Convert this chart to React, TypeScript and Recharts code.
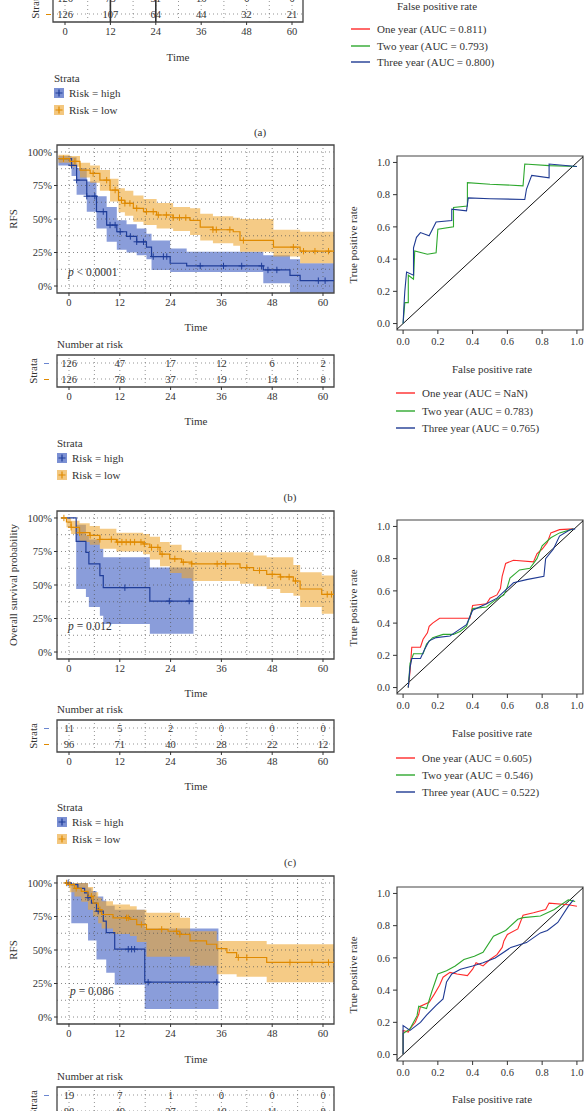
import React from "react";
import {
  ComposedChart,
  Line,
  Area,
  Scatter,
  XAxis,
  YAxis,
  ReferenceLine,
  ReferenceArea,
} from "recharts";

const FONT = '"Liberation Serif", "DejaVu Serif", serif';
const INK = "#333";
const HIGH_LINE = "#1f3d99";
const HIGH_FILL = "#3556bf";
const LOW_LINE = "#e08a00";
const LOW_FILL = "#eda62e";
const KEY_HIGH = "#7b90d3";
const KEY_LOW = "#f3c77f";
const ROC_RED = "#ff2a2a";
const ROC_GREEN = "#2ea82e";
const ROC_BLUE = "#1f3a93";

// axis ticks
const MONTHS = [0, 12, 24, 36, 48, 60];
const MONTH_GRID = [0, 6, 12, 18, 24, 30, 36, 42, 48, 54, 60];
const PCT = [0, 25, 50, 75, 100];
const PCT_GRID = [0, 12.5, 25, 37.5, 50, 62.5, 75, 87.5, 100];
const ROC_TICKS = [0, 0.2, 0.4, 0.6, 0.8, 1];

// ---- panel (a) risk table (partly cut off) ----
const A_HIGH_N = ["126", "75", "31", "16", "6", "0"];
const A_LOW_N = ["126", "107", "64", "44", "32", "21"];
const A_AUC = ["One year (AUC = 0.811)", "Two year (AUC = 0.793)", "Three year (AUC = 0.800)"];

// ---- panel (b) ----
const B_HIGH_T = [-2.5, 0.6, 1.8, 4.2, 6.5, 8.9, 11.3, 13.6, 16, 18.3, 19.5, 23.9, 27.8, 45.9, 52.2, 54.6, 62.6];
const B_HIGH_S = [95, 90, 79, 67, 55.5, 45.5, 40.5, 37, 33, 29, 22, 17, 15, 12, 8, 4, 4];
const B_HIGH_LO = [90, 82, 68, 55.5, 43, 33, 27, 25, 23, 20, 12, 10.5, 10.5, 2, -5, -5, -5];
const B_HIGH_HI = [97, 96, 88, 78, 67, 59, 49, 46, 43, 39, 34, 28, 25.6, 23, 20, 17, 17];
const B_LOW_T = [-2.5, 0.2, 2.6, 5, 7.3, 9.7, 11.7, 13.2, 15.2, 17.6, 20.7, 24.6, 28.6, 31, 34, 38.8, 40.4, 48.3, 54.6, 62.6];
const B_LOW_S = [95, 93, 86.5, 84, 79, 71.6, 64, 61.7, 58, 55.5, 53, 51, 49, 44, 42, 40.5, 34, 29, 26, 26];
const B_LOW_LO = [92, 89, 81, 77, 71, 63, 55, 52.5, 48, 45.5, 43, 41, 38, 34, 32, 30, 25.6, 22, 17, 17];
const B_LOW_HI = [98, 97, 92, 90, 86.5, 80, 73, 71, 67.5, 65, 62, 59, 58, 54, 52, 51, 50, 42, 40.5, 40.5];
const B_HIGH_CENS = [0.6, 1.8, 4.2, 6.1, 8.1, 9.7, 10.9, 12.1, 14.5, 16, 17.6, 19.9, 22.3, 23.1, 31, 36.5, 40.8, 45.5, 47, 49.1, 58.9, 60.5];
const B_LOW_CENS = [-1.3, 1.4, 5.7, 8.9, 10.9, 12.4, 13.2, 14.4, 16, 18.3, 19.9, 21.1, 23, 24.6, 26.1, 27.6, 34, 34.8, 38, 41.2, 53, 55.4, 58.1, 61.3];
const B_HIGH_N = ["126", "47", "17", "12", "6", "2"];
const B_LOW_N = ["126", "78", "37", "19", "14", "8"];
const B_GREEN_X = [0, 0.01, 0.03, 0.03, 0.06, 0.067, 0.14, 0.19, 0.2, 0.29, 0.29, 0.37, 0.37, 0.5, 0.69, 0.7, 0.84, 1];
const B_GREEN_Y = [0, 0.13, 0.13, 0.3, 0.275, 0.45, 0.43, 0.44, 0.585, 0.6, 0.72, 0.73, 0.875, 0.865, 0.855, 0.99, 0.98, 0.975];
const B_BLUE_X = [0, 0.006, 0.01, 0.02, 0.06, 0.06, 0.077, 0.1, 0.15, 0.19, 0.28, 0.28, 0.365, 0.375, 0.5, 0.7, 0.71, 0.74, 0.84, 0.84, 1];
const B_BLUE_Y = [0, 0.13, 0.2, 0.32, 0.3, 0.47, 0.535, 0.565, 0.545, 0.63, 0.64, 0.71, 0.7, 0.78, 0.775, 0.77, 0.835, 0.92, 0.905, 0.99, 0.975];
const B_AUC = ["One year (AUC = NaN)", "Two year (AUC = 0.783)", "Three year (AUC = 0.765)"];

// ---- panel (c) ----
const C_HIGH_T = [-1.8, 1.7, 4, 4.7, 7.3, 8.1, 19.1, 29.4];
const C_HIGH_S = [100, 82.6, 74.4, 65.8, 57, 48, 38, 38];
const C_HIGH_LO = [100, 47, 41, 33.5, 27, 21, 13.6, 13.6];
const C_HIGH_HI = [100, 95, 87, 84, 77, 70.7, 63, 63];
const C_LOW_T = [-1.8, -0.6, 0.5, 2.5, 4.9, 7.3, 11.2, 17.5, 19.1, 21.5, 23.8, 26.6, 29, 40.4, 43.6, 46.7, 49.9, 53, 54.6, 59.7, 62.7];
const C_LOW_S = [100, 97, 93, 89, 87, 84, 82, 80.6, 78, 73, 69.5, 67, 65.8, 63, 60.8, 58, 56, 53, 47, 43, 43];
const C_LOW_LO = [100, 93, 88, 82, 80, 77, 75, 73, 69, 64, 59, 55, 53, 51, 49, 47, 44, 42, 33.5, 28.5, 28.5];
const C_LOW_HI = [100, 100, 98, 96, 94, 92, 89, 88, 86, 82, 80, 76, 74.4, 74.4, 72, 70.7, 70.7, 65, 59.6, 57, 57];
const C_HIGH_CENS = [13.2, 23.7, 28.4];
const C_LOW_CENS = [-1.2, 0.5, 2.5, 5, 7.3, 10, 11.5, 12.5, 13.5, 14.5, 15.5, 17, 17.8, 19.5, 21, 22, 25, 27, 29, 35, 37, 42, 45, 48, 50, 52, 53.5, 61, 62];
const C_HIGH_N = ["11", "5", "2", "0", "0", "0"];
const C_LOW_N = ["96", "71", "40", "28", "22", "12"];
const C_RED_X = [0.03, 0.04, 0.05, 0.1, 0.115, 0.14, 0.15, 0.17, 0.21, 0.385, 0.4, 0.48, 0.5, 0.54, 0.56, 0.57, 0.59, 0.635, 0.75, 0.77, 0.8, 0.83, 0.85, 0.9, 0.98];
const C_RED_Y = [0, 0.1, 0.25, 0.25, 0.3, 0.34, 0.38, 0.4, 0.43, 0.43, 0.51, 0.52, 0.555, 0.575, 0.615, 0.69, 0.77, 0.79, 0.78, 0.83, 0.86, 0.9, 0.96, 0.98, 0.985];
const C_GREEN_X = [0.03, 0.04, 0.06, 0.115, 0.135, 0.17, 0.23, 0.29, 0.33, 0.365, 0.4, 0.48, 0.52, 0.58, 0.6, 0.615, 0.67, 0.73, 0.77, 0.8, 0.85, 0.9, 0.98];
const C_GREEN_Y = [0, 0.15, 0.21, 0.21, 0.27, 0.31, 0.33, 0.33, 0.35, 0.38, 0.49, 0.5, 0.535, 0.575, 0.625, 0.68, 0.73, 0.74, 0.8, 0.88, 0.93, 0.96, 0.985];
const C_BLUE_X = [0.03, 0.04, 0.05, 0.1, 0.125, 0.15, 0.19, 0.27, 0.31, 0.365, 0.4, 0.44, 0.48, 0.54, 0.58, 0.635, 0.71, 0.81, 0.82, 0.865, 0.9, 0.96, 0.99];
const C_BLUE_Y = [0, 0.125, 0.18, 0.18, 0.24, 0.29, 0.31, 0.32, 0.35, 0.39, 0.48, 0.5, 0.52, 0.555, 0.595, 0.65, 0.67, 0.69, 0.8, 0.86, 0.94, 0.98, 0.985];
const C_AUC = ["One year (AUC = 0.605)", "Two year (AUC = 0.546)", "Three year (AUC = 0.522)"];

// ---- panel (d) ----
const D_HIGH_T = [-1, 0.55, 2.1, 3.7, 4.5, 5.3, 6.5, 8.1, 8.8, 10.8, 17.9, 35.3];
const D_HIGH_S = [100, 98.8, 96, 92.6, 89, 85, 79, 71.6, 63, 50.6, 26, 26];
const D_HIGH_LO = [100, 70, 70, 70, 57, 57, 43, 43, 33, 24, 6, 6];
const D_HIGH_HI = [100, 100, 100, 100, 96, 94, 90, 87, 83, 80, 66, 66];
const D_LOW_T = [-1, 0.2, 1.3, 2.9, 4.5, 5.7, 6.9, 7.7, 10.4, 14.4, 16, 18.3, 23.4, 26.2, 28.6, 32.5, 34.9, 37.3, 39.6, 46.7, 62.7];
const D_LOW_S = [100, 98.8, 96, 93.8, 90, 85, 80, 76.5, 74, 72.8, 69, 65.4, 64, 61.7, 56.8, 54.3, 51, 48, 44.4, 40.7, 40.7];
const D_LOW_LO = [100, 93, 90, 86, 80, 75, 70, 66, 62, 60.5, 56, 45, 45, 45, 38.3, 38.3, 32, 32, 30, 26, 26];
const D_LOW_HI = [100, 100, 100, 100, 97, 93, 89, 86.4, 84, 82.7, 80, 77.8, 77.8, 74, 64, 64, 56.8, 56.8, 56.8, 54.3, 54.3];
const D_HIGH_CENS = [-0.2, 4.5, 6.9, 14, 14.8, 15.5, 18.7, 34.9];
const D_LOW_CENS = [-0.6, 0.2, 1.7, 5.3, 7.3, 13.6, 14, 17.1, 21.9, 25.4, 26.2, 40, 42, 52.2, 57.4, 61.3];
const D_HIGH_N = ["19", "7", "1", "0", "0", "0"];
const D_LOW_N = ["88", "49", "27", "18", "11", "8"];
const D_RED_X = [0, 0, 0.03, 0.04, 0.07, 0.09, 0.1, 0.15, 0.18, 0.21, 0.23, 0.27, 0.31, 0.37, 0.4, 0.42, 0.46, 0.5, 0.54, 0.57, 0.58, 0.6, 0.66, 0.69, 0.75, 0.82, 0.84, 0.95, 1];
const D_RED_Y = [0, 0.15, 0.14, 0.16, 0.2, 0.25, 0.3, 0.325, 0.375, 0.43, 0.48, 0.51, 0.5, 0.49, 0.53, 0.57, 0.55, 0.59, 0.62, 0.665, 0.705, 0.745, 0.78, 0.865, 0.88, 0.9, 0.94, 0.93, 0.92];
const D_GREEN_X = [0, 0, 0.04, 0.08, 0.09, 0.135, 0.165, 0.2, 0.25, 0.3, 0.35, 0.41, 0.46, 0.52, 0.59, 0.66, 0.69, 0.79, 0.87, 0.95, 0.99];
const D_GREEN_Y = [0, 0.13, 0.16, 0.24, 0.3, 0.285, 0.39, 0.5, 0.52, 0.55, 0.59, 0.61, 0.635, 0.735, 0.77, 0.84, 0.85, 0.86, 0.9, 0.96, 0.95];
const D_BLUE_X = [0, 0, 0.04, 0.1, 0.135, 0.19, 0.23, 0.25, 0.28, 0.33, 0.4, 0.46, 0.53, 0.62, 0.71, 0.79, 0.83, 0.89, 0.95, 0.98];
const D_BLUE_Y = [0, 0.18, 0.15, 0.2, 0.245, 0.305, 0.345, 0.45, 0.5, 0.53, 0.55, 0.57, 0.6, 0.665, 0.695, 0.755, 0.77, 0.82, 0.92, 0.96];

const bandRows = (t: number[], s: number[], lo: number[], hi: number[]) =>
  t.map((v, i) => ({ t: v, s: s[i], lo: lo[i], hi: hi[i] }));

// censor marks sit on the step curve
const onCurve = (times: number[], t: number[], s: number[]) =>
  times.map((c) => {
    let v = s[0];
    t.forEach((tt, i) => {
      if (tt <= c) v = s[i];
    });
    return { t: c, s: v };
  });

const rocRows = (x: number[], y: number[]) => x.map((v, i) => ({ x: v, y: y[i] }));

const tickStyle = { fontSize: 10.5, fill: INK, fontFamily: FONT };

const plus = (color: string) => (p: any) =>
  (
    <path
      d={`M${p.cx - 3.2},${p.cy}h6.4M${p.cx},${p.cy - 3.2}v6.4`}
      stroke={color}
      strokeWidth={1}
      fill="none"
    />
  );

function Txt({ x, y, children, anchor = "middle", rotate = false, size = 11, style = {} }: any) {
  const tx = anchor === "middle" ? "-50%" : anchor === "end" ? "-100%" : "0";
  return (
    <div
      style={{
        position: "absolute",
        left: x,
        top: y,
        transform: `translate(${tx},-50%)${rotate ? " rotate(-90deg)" : ""}`,
        fontSize: size,
        lineHeight: 1,
        whiteSpace: "nowrap",
        color: INK,
        fontFamily: FONT,
        ...style,
      }}
    >
      {children}
    </div>
  );
}

function KMPlot({ top, hT, hS, hLo, hHi, lT, lS, lLo, lHi, hC, lC }: any) {
  const xd = [-2.83, 62.6];
  const yd = [-5.2, 105.2];
  const hiRows = bandRows(hT, hS, hLo, hHi);
  const loRows = bandRows(lT, lS, lLo, lHi);
  return (
    <div style={{ position: "absolute", left: 0, top: top - 10 }}>
      <ComposedChart width={340} height={180} margin={{ top: 10, right: 6, bottom: 0, left: 10 }}>
        <XAxis type="number" dataKey="t" domain={xd} ticks={MONTHS} interval={0} allowDataOverflow
          axisLine={false} tickSize={3} tickMargin={3} tickLine={{ stroke: INK }} tick={tickStyle} height={22} />
        <YAxis type="number" domain={yd} ticks={PCT} interval={0} allowDataOverflow axisLine={false}
          tickSize={3} tickMargin={2} tickLine={{ stroke: INK }} tickFormatter={(v: number) => `${v}%`}
          tick={tickStyle} width={47} />
        {MONTH_GRID.map((v) => (
          <ReferenceLine key={"gx" + v} x={v} stroke="#555" strokeDasharray="1 3" strokeWidth={0.7} />
        ))}
        {PCT_GRID.map((v) => (
          <ReferenceLine key={"gy" + v} y={v} stroke="#555" strokeDasharray="1 3" strokeWidth={0.7} />
        ))}
        <Area data={hiRows} dataKey={(d: any) => [d.lo, d.hi]} type="stepAfter" fill={HIGH_FILL}
          fillOpacity={0.58} stroke="none" isAnimationActive={false} />
        <Area data={loRows} dataKey={(d: any) => [d.lo, d.hi]} type="stepAfter" fill={LOW_FILL}
          fillOpacity={0.58} stroke="none" isAnimationActive={false} />
        <Line data={hiRows} dataKey="s" type="stepAfter" stroke={HIGH_LINE} strokeWidth={1.2} dot={false}
          isAnimationActive={false} />
        <Line data={loRows} dataKey="s" type="stepAfter" stroke={LOW_LINE} strokeWidth={1.2} dot={false}
          isAnimationActive={false} />
        <Scatter data={onCurve(hC, hT, hS)} dataKey="s" shape={plus(HIGH_LINE)} isAnimationActive={false} />
        <Scatter data={onCurve(lC, lT, lS)} dataKey="s" shape={plus(LOW_LINE)} isAnimationActive={false} />
        <ReferenceArea x1={xd[0]} x2={xd[1]} y1={yd[0]} y2={yd[1]} fill="none" stroke="#444"
          strokeWidth={1.3} ifOverflow="visible" />
      </ComposedChart>
    </div>
  );
}

function RiskTable({ top, left, right, x0, x60, highN, lowN, solid = false }: any) {
  const k = (x60 - x0) / 60;
  const xd = [(left - x0) / k, (right - x0) / k];
  const cells = [
    ...MONTHS.map((t, i) => ({ t, y: 1.5, n: highN[i] })),
    ...MONTHS.map((t, i) => ({ t, y: 0.5, n: lowN[i] })),
  ];
  return (
    <div style={{ position: "absolute", left: left - 57, top: top - 2 }}>
      <ComposedChart width={right - left + 63} height={56} margin={{ top: 2, right: 6, bottom: 0, left: 10 }}>
        <XAxis type="number" dataKey="t" domain={xd} ticks={MONTHS} interval={0} allowDataOverflow
          axisLine={false} tickSize={3} tickMargin={3} tickLine={{ stroke: INK }} tick={tickStyle} height={22} />
        <YAxis type="number" domain={[0, 2]} tick={false} axisLine={false} tickLine={false} width={47} />
        {MONTH_GRID.map((v) => (
          <ReferenceLine key={"gx" + v} x={v} stroke="#666" strokeDasharray="1 3" strokeWidth={0.7} />
        ))}
        {[0.5, 1.5].map((v) => (
          <ReferenceLine key={"gy" + v} y={v} stroke="#666" strokeDasharray="1 3" strokeWidth={0.7} />
        ))}
        {solid &&
          [12, 24].map((v) => <ReferenceLine key={"s" + v} x={v} stroke="#333" strokeWidth={1.6} />)}
        <Scatter
          data={cells}
          dataKey="y"
          isAnimationActive={false}
          shape={(p: any) => (
            <text x={p.cx} y={p.cy} dy="0.35em" textAnchor="middle" fontSize={10.5} fontFamily={FONT} fill={INK}>
              {p.payload.n}
            </text>
          )}
        />
        <ReferenceArea x1={xd[0]} x2={xd[1]} y1={0} y2={2} fill="none" stroke="#444" strokeWidth={1.3}
          ifOverflow="visible" />
      </ComposedChart>
    </div>
  );
}

function ROCPlot({ top, curves }: any) {
  const xd = [-0.035, 1.035];
  const yd = [-0.04, 1.04];
  return (
    <div style={{ position: "absolute", left: 340, top: top - 10 }}>
      <ComposedChart width={244} height={206} margin={{ top: 10, right: 1, bottom: 0, left: 10 }}>
        <XAxis type="number" dataKey="x" domain={xd} ticks={ROC_TICKS} interval={0} allowDataOverflow
          axisLine={false} tickSize={4} tickMargin={4} tickLine={{ stroke: INK }}
          tickFormatter={(v: number) => v.toFixed(1)} tick={tickStyle} height={22} />
        <YAxis type="number" domain={yd} ticks={ROC_TICKS} interval={0} allowDataOverflow axisLine={false}
          tickSize={4} tickMargin={3} tickLine={{ stroke: INK }} tickFormatter={(v: number) => v.toFixed(1)}
          tick={tickStyle} width={47} />
        <ReferenceLine segment={[{ x: -0.035, y: -0.035 }, { x: 1.035, y: 1.035 }]} stroke="#111"
          strokeWidth={1} ifOverflow="visible" />
        {curves.map((c: any, i: number) => (
          <Line key={i} data={c.data} dataKey="y" type="linear" stroke={c.color} strokeWidth={1.1}
            dot={false} isAnimationActive={false} />
        ))}
        <ReferenceArea x1={xd[0]} x2={xd[1]} y1={yd[0]} y2={yd[1]} fill="none" stroke="#444"
          strokeWidth={1.2} ifOverflow="visible" />
      </ComposedChart>
    </div>
  );
}

function RocLegend({ left, top, step, labels }: any) {
  const colors = [ROC_RED, ROC_GREEN, ROC_BLUE];
  return (
    <>
      {labels.map((l: string, i: number) => {
        const y = Math.round(top + i * step);
        return (
          <React.Fragment key={i}>
            <svg style={{ position: "absolute", left, top: y - 2 }} width={19} height={4}>
              <line x1={0} y1={2} x2={19} y2={2} stroke={colors[i]} strokeWidth={1.4} />
            </svg>
            <Txt x={left + 26} y={y} anchor="start">{l}</Txt>
          </React.Fragment>
        );
      })}
    </>
  );
}

function KeyBox({ x, y, fill, color }: any) {
  return (
    <svg style={{ position: "absolute", left: x, top: y - 5 }} width={10} height={10}>
      <rect x={0} y={0} width={10} height={10} fill={fill} />
      <path d="M1.5,5h7M5,1.5v7" stroke={color} strokeWidth={1.2} />
    </svg>
  );
}

function StrataLegend({ left, top }: any) {
  return (
    <>
      <Txt x={left} y={top} anchor="start">Strata</Txt>
      <KeyBox x={left} y={top + 15} fill={KEY_HIGH} color={HIGH_LINE} />
      <Txt x={left + 15} y={top + 15} anchor="start">Risk = high</Txt>
      <KeyBox x={left} y={top + 32} fill={KEY_LOW} color={LOW_LINE} />
      <Txt x={left + 15} y={top + 32} anchor="start">Risk = low</Txt>
    </>
  );
}

function TableSide({ x, top }: any) {
  return (
    <>
      <Txt x={x} y={top + 16} rotate>Strata</Txt>
      <div style={{ position: "absolute", left: x + 11, top: top + 8, width: 5, height: 1, background: "#6b86d0" }} />
      <div style={{ position: "absolute", left: x + 11, top: top + 24, width: 5, height: 1, background: LOW_LINE }} />
    </>
  );
}

export default function App() {
  const rocB = [
    { color: ROC_GREEN, data: rocRows(B_GREEN_X, B_GREEN_Y) },
    { color: ROC_BLUE, data: rocRows(B_BLUE_X, B_BLUE_Y) },
  ];
  const rocC = [
    { color: ROC_RED, data: rocRows(C_RED_X, C_RED_Y) },
    { color: ROC_GREEN, data: rocRows(C_GREEN_X, C_GREEN_Y) },
    { color: ROC_BLUE, data: rocRows(C_BLUE_X, C_BLUE_Y) },
  ];
  const rocD = [
    { color: ROC_RED, data: rocRows(D_RED_X, D_RED_Y) },
    { color: ROC_GREEN, data: rocRows(D_GREEN_X, D_GREEN_Y) },
    { color: ROC_BLUE, data: rocRows(D_BLUE_X, D_BLUE_Y) },
  ];
  return (
    <div
      style={{
        position: "absolute",
        left: 0,
        top: 0,
        width: 584,
        height: 1111,
        overflow: "hidden",
        background: "#fff",
        fontFamily: FONT,
      }}
    >
      {/* (a) tail */}
      <RiskTable top={-10} left={53} right={303} x0={65} x60={292} highN={A_HIGH_N} lowN={A_LOW_N} solid />
      <TableSide x={35} top={-10} />
      <Txt x={178} y={57}>Time</Txt>
      <StrataLegend left={54} top={78} />
      <Txt x={260} y={132}>(a)</Txt>
      <Txt x={437} y={6}>False positive rate</Txt>
      <RocLegend left={351} top={29} step={16.5} labels={A_AUC} />

      {/* (b) */}
      <KMPlot top={145} hT={B_HIGH_T} hS={B_HIGH_S} hLo={B_HIGH_LO} hHi={B_HIGH_HI}
        lT={B_LOW_T} lS={B_LOW_S} lLo={B_LOW_LO} lHi={B_LOW_HI} hC={B_HIGH_CENS} lC={B_LOW_CENS} />
      <Txt x={13} y={219} rotate>RFS</Txt>
      <Txt x={68} y={273} anchor="start" size={11.5}><i>p</i> &lt; 0.0001</Txt>
      <Txt x={196} y={327}>Time</Txt>
      <Txt x={57} y={344} anchor="start">Number at risk</Txt>
      <RiskTable top={355} left={57} right={334} x0={69} x60={323} highN={B_HIGH_N} lowN={B_LOW_N} />
      <TableSide x={33} top={355} />
      <Txt x={196} y={421}>Time</Txt>
      <StrataLegend left={57} top={443} />
      <Txt x={290} y={497}>(b)</Txt>
      <ROCPlot top={156} curves={rocB} />
      <Txt x={353} y={245} rotate>True positive rate</Txt>
      <Txt x={492} y={369}>False positive rate</Txt>
      <RocLegend left={396} top={393} step={17.5} labels={B_AUC} />

      {/* (c) */}
      <KMPlot top={511} hT={C_HIGH_T} hS={C_HIGH_S} hLo={C_HIGH_LO} hHi={C_HIGH_HI}
        lT={C_LOW_T} lS={C_LOW_S} lLo={C_LOW_LO} lHi={C_LOW_HI} hC={C_HIGH_CENS} lC={C_LOW_CENS} />
      <Txt x={13} y={585} rotate>Overall survival probability</Txt>
      <Txt x={68} y={627} anchor="start" size={11.5}><i>p</i> = 0.012</Txt>
      <Txt x={196} y={693}>Time</Txt>
      <Txt x={57} y={709} anchor="start">Number at risk</Txt>
      <RiskTable top={720} left={57} right={334} x0={69} x60={323} highN={C_HIGH_N} lowN={C_LOW_N} />
      <TableSide x={33} top={720} />
      <Txt x={196} y={786}>Time</Txt>
      <StrataLegend left={57} top={807} />
      <Txt x={290} y={862}>(c)</Txt>
      <ROCPlot top={520} curves={rocC} />
      <Txt x={353} y={608} rotate>True positive rate</Txt>
      <Txt x={492} y={733}>False positive rate</Txt>
      <RocLegend left={396} top={758} step={17} labels={C_AUC} />

      {/* (d) */}
      <KMPlot top={876} hT={D_HIGH_T} hS={D_HIGH_S} hLo={D_HIGH_LO} hHi={D_HIGH_HI}
        lT={D_LOW_T} lS={D_LOW_S} lLo={D_LOW_LO} lHi={D_LOW_HI} hC={D_HIGH_CENS} lC={D_LOW_CENS} />
      <Txt x={13} y={950} rotate>RFS</Txt>
      <Txt x={70} y={992} anchor="start" size={11.5}><i>p</i> = 0.086</Txt>
      <Txt x={196} y={1059}>Time</Txt>
      <Txt x={57} y={1076} anchor="start">Number at risk</Txt>
      <RiskTable top={1087} left={57} right={334} x0={69} x60={323} highN={D_HIGH_N} lowN={D_LOW_N} />
      <TableSide x={33} top={1087} />
      <ROCPlot top={887} curves={rocD} />
      <Txt x={353} y={975} rotate>True positive rate</Txt>
      <Txt x={492} y={1099}>False positive rate</Txt>
    </div>
  );
}
